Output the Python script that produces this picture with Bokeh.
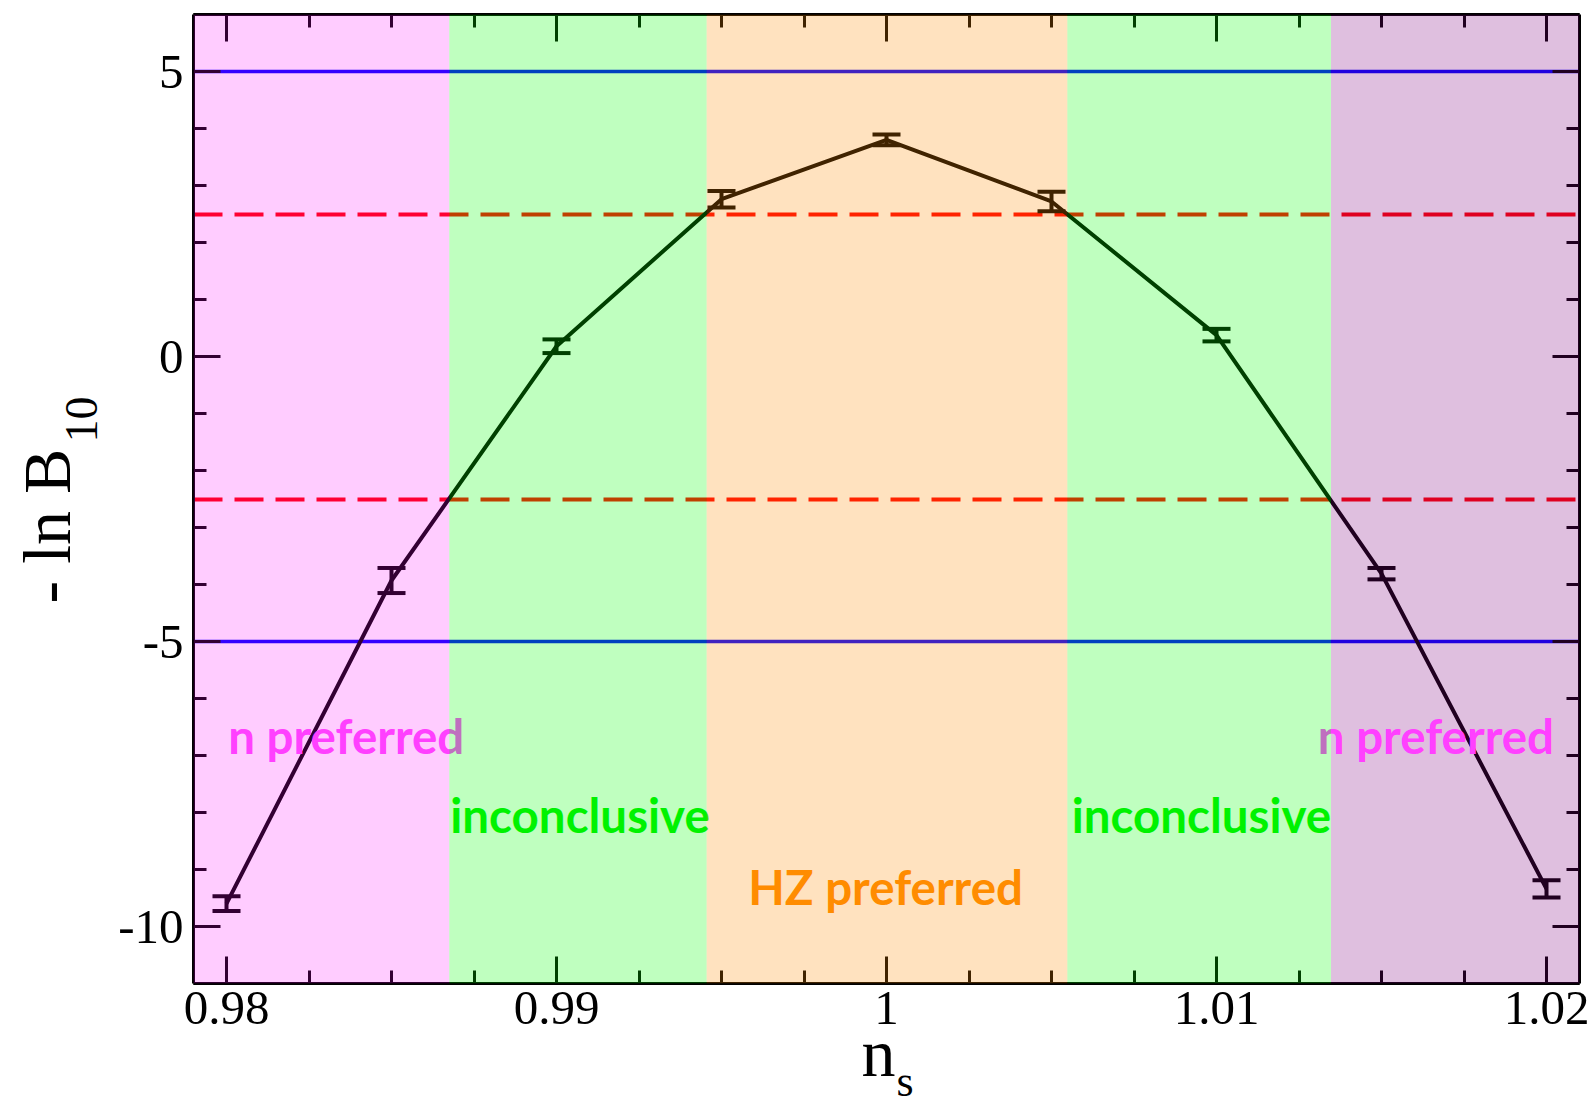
import numpy as np
from bokeh.plotting import figure
from bokeh.models import Range1d, LinearAxis, FixedTicker, BoxAnnotation, Label, Title
from bokeh.embed import file_html
from bokeh.resources import INLINE

# ---------------- data ----------------
ns = [0.98, 0.985, 0.99, 0.995, 1.0, 1.005, 1.01, 1.015, 1.02]
lnB = [-9.60, -3.93, 0.18, 2.76, 3.80, 2.72, 0.375, -3.81, -9.34]
err = [0.13, 0.22, 0.12, 0.145, 0.095, 0.17, 0.11, 0.10, 0.15]

x_limits = [0.979, 1.021]
y_limits = [-11, 6]

xticks = [0.98, 0.99, 1.0, 1.01, 1.02]
xtick_labels = ["0.98", "0.99", "1", "1.01", "1.02"]
yticks = [-10, -5, 0, 5]
ytick_labels = ["-10", "-5", "0", "5"]

strong_levels = [5, -5]       # blue solid lines
weak_levels = [2.5, -2.5]     # red dashed lines

# region boundaries (where the curve crosses +-2.5)
bounds = [0.979, 0.98675, 0.99455, 1.00548, 1.01347, 1.021]
region_colors = ["#FF00FF", "#00FF00", "#FF8C00", "#00FF00", "#800080"]
region_alpha = [0.2, 0.25, 0.25, 0.25, 0.25]

labels = [
    ("n preferred", 0.98005, -6.65, "#FF40FF"),
    ("n preferred", 1.01307, -6.65, "#FF40FF"),
    ("inconclusive", 0.98678, -8.03, "#00EE00"),
    ("inconclusive", 1.00561, -8.03, "#00EE00"),
    ("HZ preferred", 0.99581, -9.30, "#FF8C00"),
]

# ---------------- figure ----------------
p = figure(frame_width=1386, frame_height=969,
           x_range=Range1d(*x_limits), y_range=Range1d(*y_limits),
           output_backend="svg", toolbar_location=None,
           min_border_left=193, min_border_right=15,
           min_border_top=14, min_border_bottom=126,
           outline_line_color=None,
           background_fill_color="white", border_fill_color="white")
p.xgrid.visible = False
p.ygrid.visible = False

xminor = [round(v, 4) for v in np.arange(0.9775, 1.0226, 0.0025)]
yminor = list(range(-11, 7))


def style_axis(ax):
    ax.axis_line_width = 3
    ax.axis_line_color = "black"
    ax.major_tick_in = 27
    ax.major_tick_out = 0
    ax.minor_tick_in = 13
    ax.minor_tick_out = 0
    ax.major_tick_line_width = 3
    ax.minor_tick_line_width = 3
    ax.major_tick_line_color = "black"
    ax.minor_tick_line_color = "black"
    ax.axis_label = None
    ax.major_label_text_font = "Liberation Serif"
    ax.major_label_text_font_size = "49px"
    ax.major_label_text_color = "black"


xa = p.xaxis[0]
xa.ticker = FixedTicker(ticks=xticks, minor_ticks=xminor)
xa.major_label_overrides = dict(zip(xticks, xtick_labels))
style_axis(xa)
xa.major_label_standoff = 8

ya = p.yaxis[0]
ya.ticker = FixedTicker(ticks=yticks, minor_ticks=yminor)
ya.major_label_overrides = dict(zip(yticks, ytick_labels))
style_axis(ya)
ya.major_label_standoff = 10


def mirror_axis(minor_pos, length, show_line):
    # tick-only axis (no labels): all its ticks are drawn as "minor" ticks
    ax = LinearAxis(ticker=FixedTicker(ticks=[], minor_ticks=minor_pos))
    ax.axis_line_width = 3
    ax.axis_line_color = "black" if show_line else None
    ax.major_tick_in = 0
    ax.major_tick_out = 0
    ax.minor_tick_in = length
    ax.minor_tick_out = 0
    ax.minor_tick_line_width = 3
    ax.minor_tick_line_color = "black"
    ax.major_label_standoff = 0
    ax.axis_label = None
    return ax


p.add_layout(mirror_axis(xminor, 13, True), "above")
p.add_layout(mirror_axis(xticks, 27, False), "above")
p.add_layout(mirror_axis(yminor, 13, True), "right")
p.add_layout(mirror_axis(yticks, 27, False), "right")

# ---------------- reference lines ----------------
p.hspan(y=strong_levels, line_color="blue", line_width=3.3)
p.hspan(y=weak_levels, line_color="red", line_width=4, line_dash="29 12")

# ---------------- data curve with error bars ----------------
lo = [v - e for v, e in zip(lnB, err)]
hi = [v + e for v, e in zip(lnB, err)]
p.line(ns, lnB, line_color="black", line_width=4)
p.segment(x0=ns, y0=lo, x1=ns, y1=hi, line_color="black", line_width=4)
p.scatter(ns, lo, marker="dash", size=28, line_color="black", line_width=4)
p.scatter(ns, hi, marker="dash", size=28, line_color="black", line_width=4)

# ---------------- shaded regions and texts ----------------
boxes = [BoxAnnotation(left=bounds[i], right=bounds[i + 1],
                       fill_color=region_colors[i], fill_alpha=region_alpha[i],
                       line_color=None) for i in range(5)]
p.add_layout(boxes[0])
p.add_layout(boxes[4])
for txt, lx, ly, col in labels:
    p.add_layout(Label(x=lx, y=ly, text=txt, text_font="Lato", text_font_style="bold",
                       text_font_size="47.5px", text_color=col,
                       text_align="left", text_baseline="alphabetic"))
p.add_layout(boxes[1])
p.add_layout(boxes[2])
p.add_layout(boxes[3])

# ---------------- axis titles (side panels) ----------------
serif = dict(text_font="Liberation Serif", text_font_style="normal", text_color="black")
p.add_layout(Title(text="10", align="left", vertical_align="top", offset=541,
                   standoff=34, text_font_size="46px", **serif), "left")
p.add_layout(Title(text="- ln B", align="left", vertical_align="bottom", offset=380,
                   standoff=-72, text_font_size="68px", **serif), "left")
p.add_layout(Title(text="n", align="left", vertical_align="top", offset=668,
                   standoff=-23, text_font_size="68px", **serif), "below")
p.add_layout(Title(text="s", align="left", vertical_align="top", offset=703,
                   standoff=-49, text_font_size="44px", **serif), "below")

open("out.html", "w").write(file_html(p, INLINE))
